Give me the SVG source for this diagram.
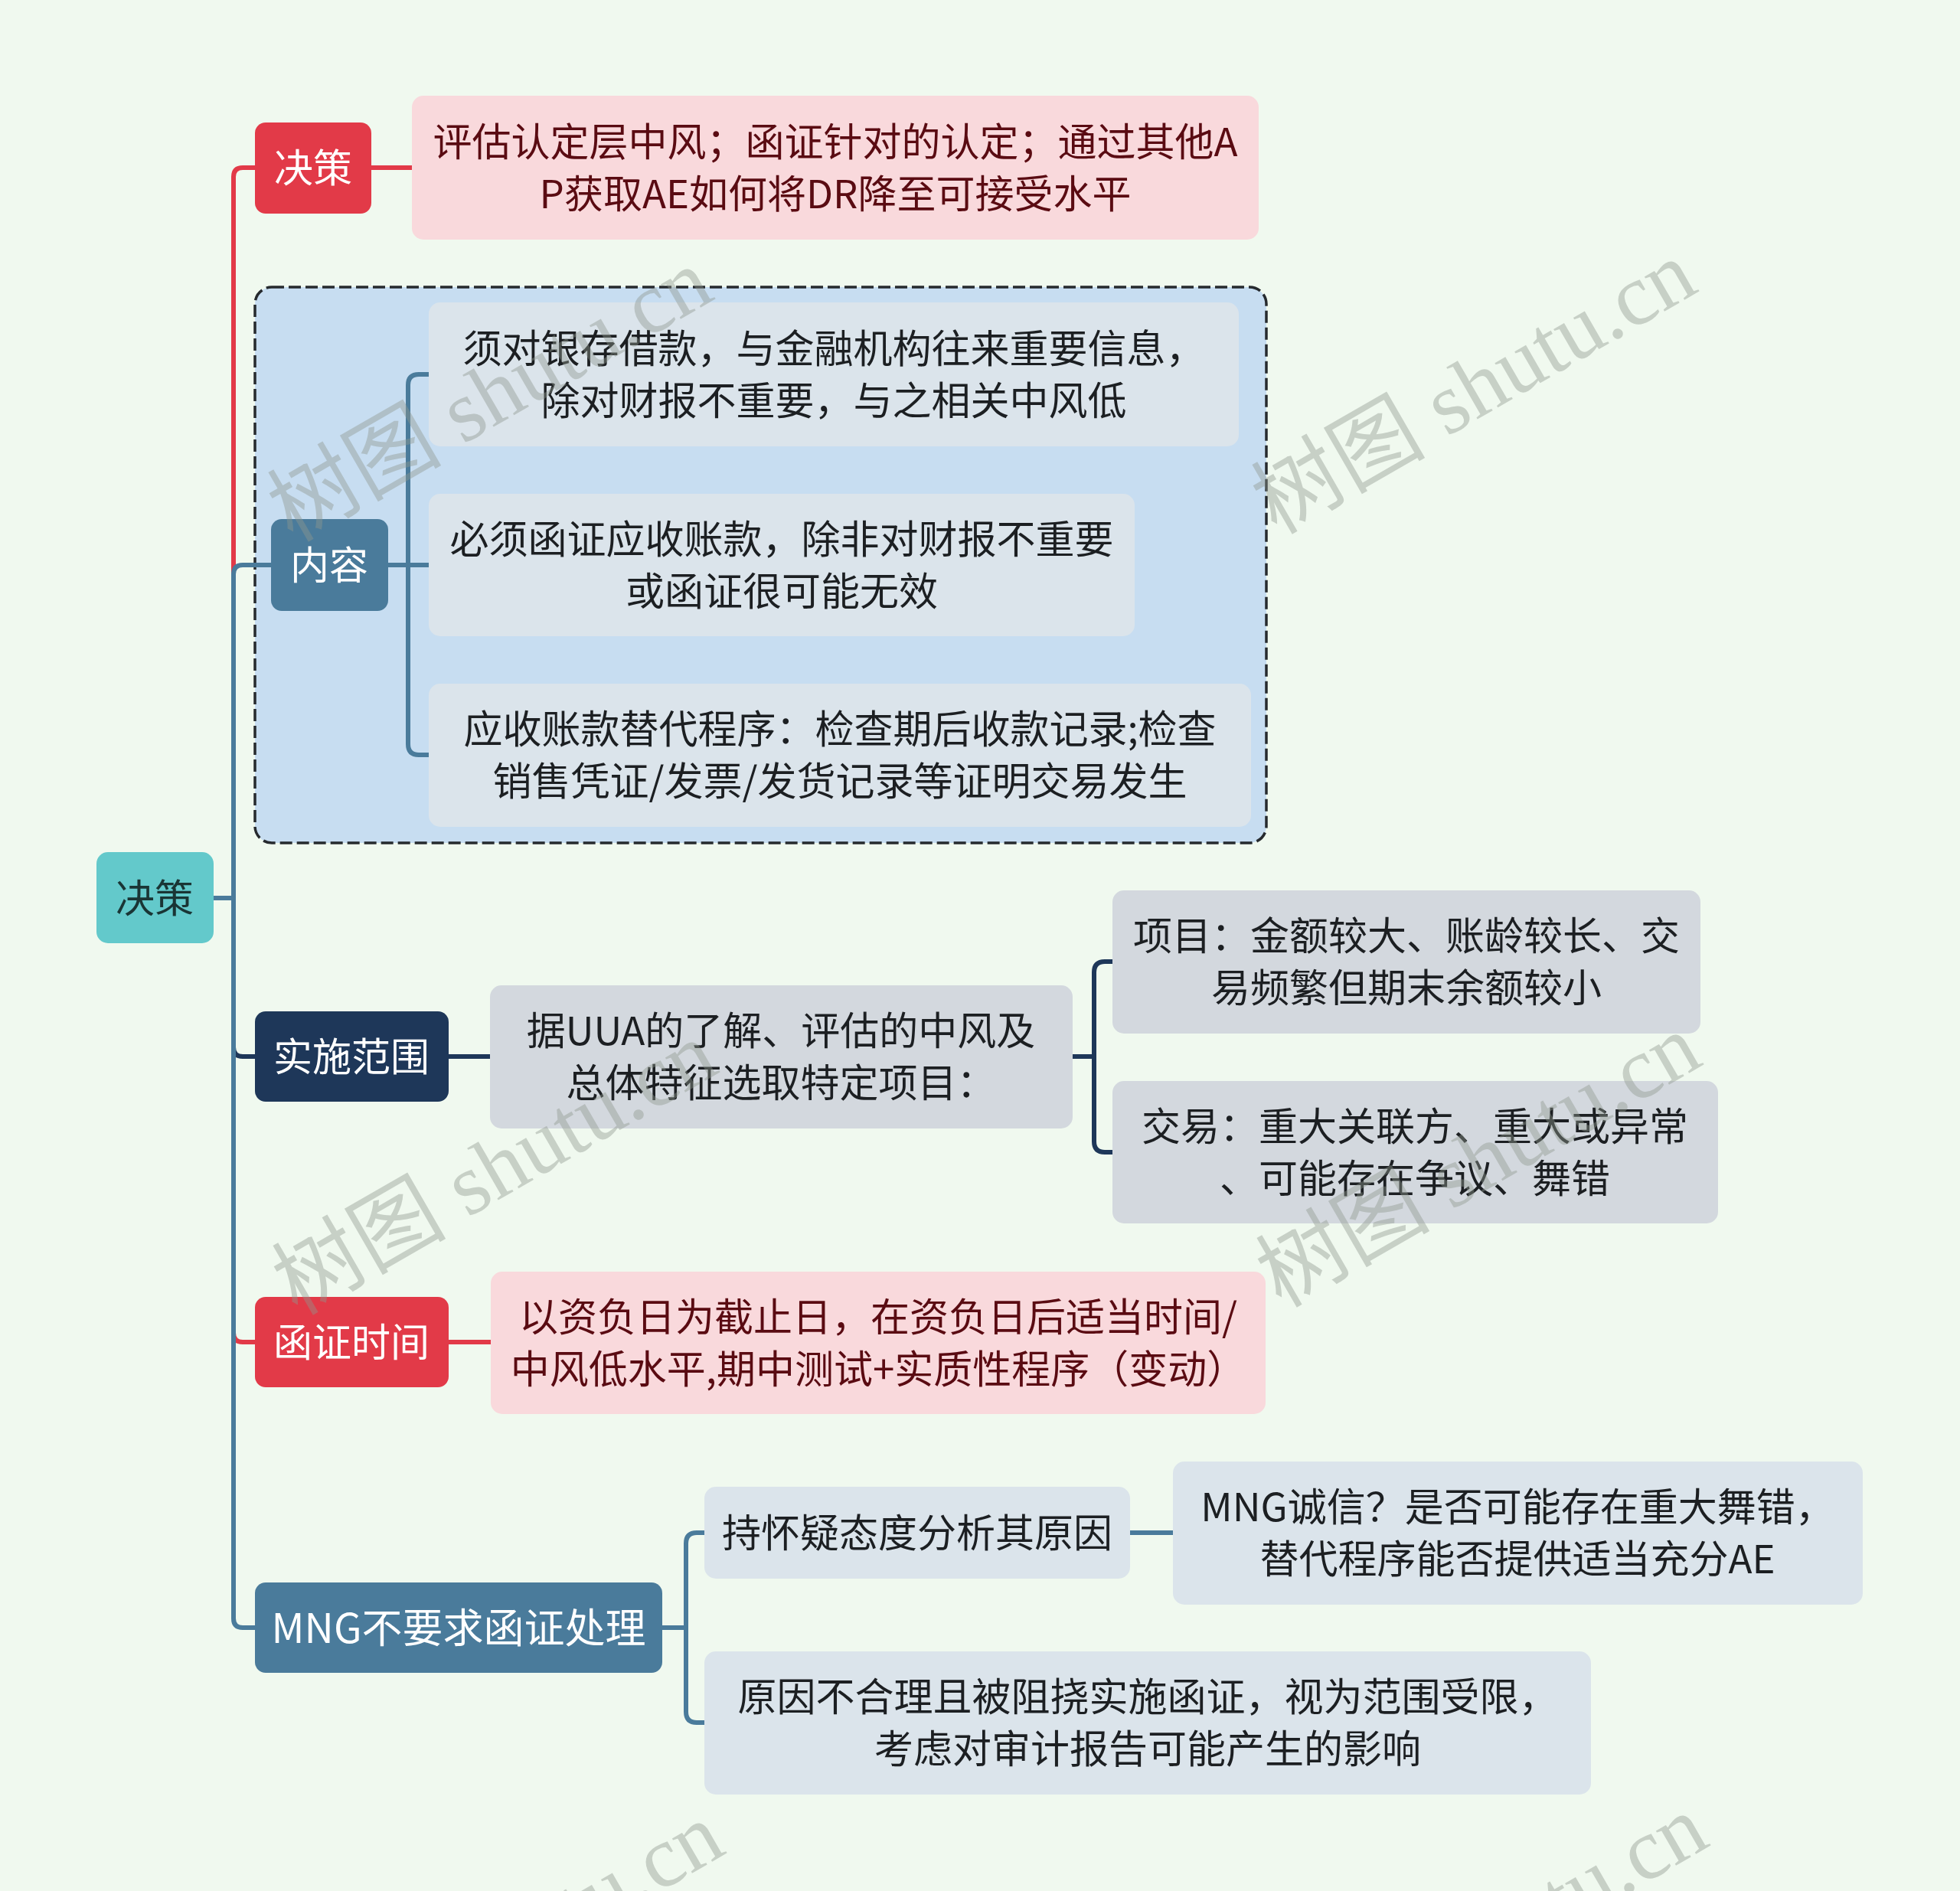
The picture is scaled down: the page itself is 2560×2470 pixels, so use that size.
<svg xmlns="http://www.w3.org/2000/svg" width="2560" height="2470" viewBox="0 0 2560 2470">
<style>
.t{font-family:"Noto Sans CJK SC","Noto Sans",sans-serif;font-size:51px;text-anchor:middle;dominant-baseline:central}
.lbl{fill:#ffffff}
.dk{fill:#1c1f22}
.mr{fill:#5a0b12}
.c{fill:none;stroke-width:6;stroke-linecap:butt;stroke-linejoin:round}
.red{stroke:#e23a48}
.blu{stroke:#4a7b9b}
.nav{stroke:#1e3759}
.wm{font-family:"Liberation Serif","Noto Sans CJK SC",serif;font-size:114px;text-anchor:middle;dominant-baseline:central;fill:#8f988f;opacity:0.42}
</style>
<rect x="0" y="0" width="2560" height="2470" fill="#f0f9ef"/>

<g id="group-box">
<rect x="333" y="375" width="1321" height="726" rx="22" fill="#c7ddf1" stroke="#262a2e" stroke-width="3.5" stroke-dasharray="16 6"/>
</g>

<g id="connectors">
<path class="c red" d="M279 1173 H305 V231 Q305 219 317 219 H333"/>
<path class="c red" d="M279 1173 H305 V1741 Q305 1753 317 1753 H333"/>
<path class="c nav" d="M279 1173 H305 V1368 Q305 1380 317 1380 H333"/>
<path class="c blu" d="M279 1173 H305 V750 Q305 738 317 738 H354"/>
<path class="c blu" d="M279 1173 H305 V2114 Q305 2126 317 2126 H333"/>
<path class="c red" d="M485 219 H538"/>
<path class="c blu" d="M507 738 H560"/>
<path class="c blu" d="M560 489 H547 Q533 489 533 503 V972 Q533 986 547 986 H560"/>
<path class="c nav" d="M586 1380 H640"/>
<path class="c nav" d="M1400 1380 H1429"/>
<path class="c nav" d="M1453 1256 H1443 Q1429 1256 1429 1270 V1491 Q1429 1505 1443 1505 H1453"/>
<path class="c red" d="M586 1753 H641"/>
<path class="c blu" d="M865 2126 H896"/>
<path class="c blu" d="M920 2002 H910 Q896 2002 896 2016 V2236 Q896 2250 910 2250 H920"/>
<path class="c blu" d="M1476 2002 H1532"/>
</g>

<g id="root">
<rect x="126" y="1113" width="153" height="119" rx="15" fill="#63c9cb"/>
<text class="t" x="202" y="1170" fill="#1a3535">决策</text>
</g>

<g id="n-juece">
<rect x="333" y="160" width="152" height="119" rx="14" fill="#e23a48"/>
<text class="t lbl" x="409" y="216">决策</text>
</g>
<g id="n-juece-text">
<rect x="538" y="125" width="1106" height="188" rx="15" fill="#f9d9dc"/>
<text class="t mr" x="1091" y="182">评估认定层中风；函证针对的认定；通过其他A</text>
<text class="t mr" x="1091" y="250">P获取AE如何将DR降至可接受水平</text>
</g>

<g id="n-neirong">
<rect x="354" y="678" width="153" height="120" rx="14" fill="#4a7b9b"/>
<text class="t lbl" x="430" y="735">内容</text>
</g>
<g id="n-c1">
<rect x="560" y="395" width="1058" height="188" rx="15" fill="#dbe4eb"/>
<text class="t dk" x="1089" y="452">须对银存借款，与金融机构往来重要信息，</text>
<text class="t dk" x="1089" y="520">除对财报不重要，与之相关中风低</text>
</g>
<g id="n-c2">
<rect x="560" y="645" width="922" height="186" rx="15" fill="#dbe4eb"/>
<text class="t dk" x="1021" y="701">必须函证应收账款，除非对财报不重要</text>
<text class="t dk" x="1021" y="769">或函证很可能无效</text>
</g>
<g id="n-c3">
<rect x="560" y="893" width="1074" height="187" rx="15" fill="#dbe4eb"/>
<text class="t dk" x="1097" y="949">应收账款替代程序：检查期后收款记录;检查</text>
<text class="t dk" x="1097" y="1017">销售凭证/发票/发货记录等证明交易发生</text>
</g>

<g id="n-shishi">
<rect x="333" y="1321" width="253" height="118" rx="14" fill="#1e3759"/>
<text class="t lbl" x="459" y="1377">实施范围</text>
</g>
<g id="n-uua">
<rect x="640" y="1287" width="761" height="187" rx="15" fill="#d3d8de"/>
<text class="t dk" x="1020" y="1343">据UUA的了解、评估的中风及</text>
<text class="t dk" x="1020" y="1411">总体特征选取特定项目：</text>
</g>
<g id="n-xiangmu">
<rect x="1453" y="1163" width="768" height="187" rx="15" fill="#d3d8de"/>
<text class="t dk" x="1837" y="1219">项目：金额较大、账龄较长、交</text>
<text class="t dk" x="1837" y="1287">易频繁但期末余额较小</text>
</g>
<g id="n-jiaoyi">
<rect x="1453" y="1412" width="791" height="186" rx="15" fill="#d3d8de"/>
<text class="t dk" x="1848" y="1468">交易：重大关联方、重大或异常</text>
<text class="t dk" x="1848" y="1536">、可能存在争议、舞错</text>
</g>

<g id="n-shijian">
<rect x="333" y="1694" width="253" height="118" rx="14" fill="#e23a48"/>
<text class="t lbl" x="459" y="1750">函证时间</text>
</g>
<g id="n-shijian-text">
<rect x="641" y="1661" width="1012" height="186" rx="15" fill="#f9d9dc"/>
<text class="t mr" x="1147" y="1717">以资负日为截止日，在资负日后适当时间/</text>
<text class="t mr" x="1147" y="1785">中风低水平,期中测试+实质性程序（变动）</text>
</g>

<g id="n-mng">
<rect x="333" y="2067" width="532" height="118" rx="14" fill="#4a7b9b"/>
<text class="t lbl" x="599" y="2123" style="font-size:53px">MNG不要求函证处理</text>
</g>
<g id="n-huaiyi">
<rect x="920" y="1942" width="556" height="120" rx="15" fill="#dbe4eb"/>
<text class="t dk" x="1198" y="1999">持怀疑态度分析其原因</text>
</g>
<g id="n-chengxin">
<rect x="1532" y="1909" width="901" height="187" rx="15" fill="#dbe4eb"/>
<text class="t dk" x="1982" y="1965">MNG诚信？是否可能存在重大舞错，</text>
<text class="t dk" x="1982" y="2033">替代程序能否提供适当充分AE</text>
</g>
<g id="n-yuanyin">
<rect x="920" y="2157" width="1158" height="187" rx="15" fill="#dbe4eb"/>
<text class="t dk" x="1499" y="2213">原因不合理且被阻挠实施函证，视为范围受限，</text>
<text class="t dk" x="1499" y="2281">考虑对审计报告可能产生的影响</text>
</g>

<g id="watermark">
<text class="wm" x="640" y="516" transform="rotate(-30 640 516)">树图 shutu.cn</text>
<text class="wm" x="1925" y="506" transform="rotate(-30 1925 506)">树图 shutu.cn</text>
<text class="wm" x="646" y="1526" transform="rotate(-30 646 1526)">树图 shutu.cn</text>
<text class="wm" x="1931" y="1516" transform="rotate(-30 1931 1516)">树图 shutu.cn</text>
<text class="wm" x="655" y="2546" transform="rotate(-30 655 2546)">树图 shutu.cn</text>
<text class="wm" x="1940" y="2536" transform="rotate(-30 1940 2536)">树图 shutu.cn</text>
</g>
</svg>
